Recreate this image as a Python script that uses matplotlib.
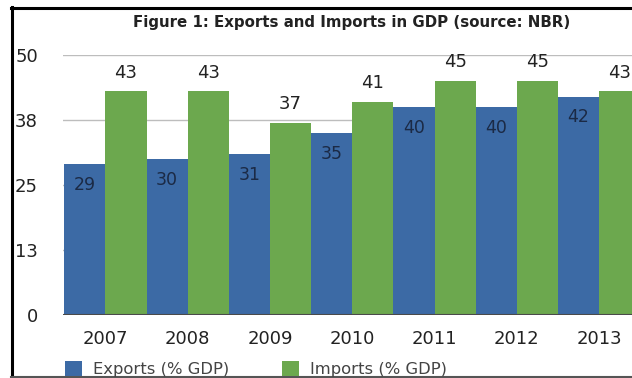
import numpy as np
import matplotlib
matplotlib.use('Agg')
import matplotlib.pyplot as plt
from matplotlib.lines import Line2D
from matplotlib.patches import Patch

# data
years = ['2007', '2008', '2009', '2010', '2011', '2012', '2013']
exports = [29, 30, 31, 35, 40, 40, 42]
imports = [43, 43, 37, 41, 45, 45, 43]
yticks = [0, 12.5, 25, 37.5, 50]
ytick_labels = ['0', '13', '25', '38', '50']

blue = '#3c6aa5'
green = '#6ca84e'

W, H = 632, 378
fig = plt.figure(figsize=(W/100., H/100.), dpi=100)
fig.patch.set_facecolor('white')

# axes from x=63px to the right edge, y from 0 at 315px up to 50 at 55px
ax = fig.add_axes([63./W, (H-315.)/H, 1-63./W, 260./H])
x = np.arange(len(years))
bw = 0.5
ax.bar(x-bw/2, exports, width=bw, color=blue, zorder=3)
ax.bar(x+bw/2, imports, width=bw, color=green, zorder=3)

ax.set_xlim(-0.516, 6.40)
ax.set_ylim(0, 50)
ax.set_yticks(yticks)
ax.set_yticklabels(ytick_labels)
ax.set_xticks(x)
ax.set_xticklabels(years)
ax.tick_params(axis='y', length=0, pad=18, labelsize=13, labelcolor='#222222')
ax.tick_params(axis='x', length=0, pad=11, labelsize=13, labelcolor='#222222')
for s in ax.spines.values():
   s.set_visible(False)
ax.grid(axis='y', color='#bdbdbd', linewidth=1.0, zorder=0)
ax.axhline(0, color='#4a4a4a', linewidth=1.5, zorder=4)

# value labels
for i in range(len(years)):
   ax.annotate(str(exports[i]), (x[i]-bw/2, exports[i]), xytext=(0, -15), textcoords='offset points',
               ha='center', va='center', fontsize=12.5, color='#1b2a45', zorder=5)
   ax.annotate(str(imports[i]), (x[i]+bw/2, imports[i]), xytext=(0, 13.5), textcoords='offset points',
               ha='center', va='center', fontsize=13, color='#222222', zorder=5, annotation_clip=False)

fig.text(352./W, 1-23./H, 'Figure 1: Exports and Imports in GDP (source: NBR)', ha='center', va='center',
         fontsize=10.8, fontweight='bold', color='#222222')

handles = [Patch(facecolor=blue, label='Exports (% GDP)'), Patch(facecolor=green, label='Imports (% GDP)')]
fig.legend(handles=handles, loc='lower left', bbox_to_anchor=(65./W, 1./H), ncol=2, frameon=False,
           fontsize=11.8, labelcolor='#444444', handlelength=1.04, handleheight=1.04, handletextpad=0.67,
           columnspacing=3.2, borderpad=0, borderaxespad=0)

# frame lines
fig.add_artist(Line2D([12./W, 12./W], [0, 1-7./H], color='black', linewidth=2.2))
fig.add_artist(Line2D([11./W, 1], [1-7.5/H, 1-7.5/H], color='black', linewidth=2.2))
fig.add_artist(Line2D([11./W, 1], [1.5/H, 1.5/H], color='#555555', linewidth=1.5))

fig.savefig('out.png', dpi=100)
